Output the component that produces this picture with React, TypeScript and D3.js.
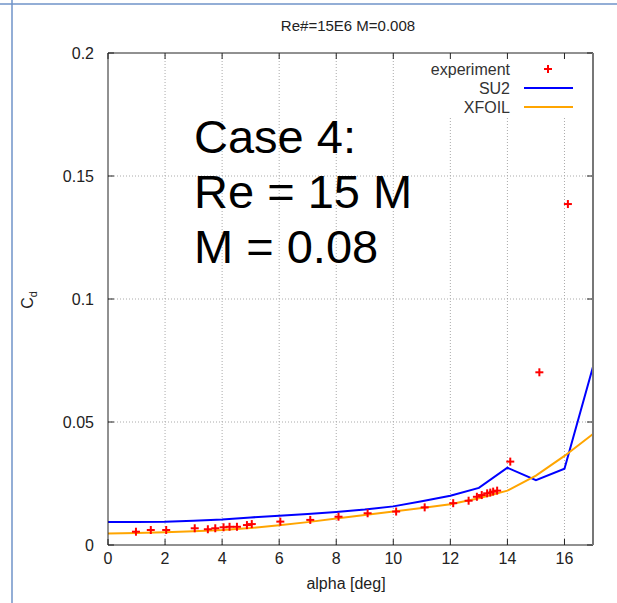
import React from 'react';
import * as d3 from 'd3';

// experiment (alpha [deg], Cd)
const expAlpha = [0.98, 1.5, 2.04, 3.04, 3.5, 3.76, 4.05, 4.26, 4.52, 4.87, 5.04, 6.04, 7.09, 8.08, 9.1, 10.1, 11.1, 12.1, 12.64, 12.93, 13.1, 13.29, 13.4, 13.5, 13.64, 14.1, 15.12, 16.12];
const expCd = [0.0054, 0.0061, 0.0061, 0.0068, 0.0064, 0.0068, 0.0072, 0.0074, 0.0074, 0.0081, 0.0085, 0.0095, 0.0102, 0.0115, 0.0129, 0.0136, 0.0153, 0.017, 0.018, 0.0196, 0.0203, 0.021, 0.0213, 0.0217, 0.0221, 0.0339, 0.0702, 0.1386];

const simAlpha = [0, 1, 2, 3, 4, 5, 6, 7, 8, 9, 10, 11, 12, 13, 14, 15, 16, 17];
const su2Cd = [0.0093, 0.0094, 0.0095, 0.0099, 0.0104, 0.0112, 0.0119, 0.0126, 0.0134, 0.0144, 0.0157, 0.0178, 0.02, 0.0232, 0.0314, 0.0264, 0.031, 0.0725];
const xfoilCd = [0.0047, 0.0049, 0.0052, 0.0056, 0.0061, 0.0069, 0.008, 0.0093, 0.0108, 0.0122, 0.0136, 0.015, 0.0166, 0.019, 0.0221, 0.0282, 0.0362, 0.0451];

const xTicks = [0, 2, 4, 6, 8, 10, 12, 14, 16];
const yTicks = [0, 0.05, 0.1, 0.15, 0.2];
const caseLines = ['Case 4:', 'Re = 15 M', 'M = 0.08'];

const font = '"Liberation Sans", Arial, sans-serif';
const ink = '#222';

export default function App() {
  const W = 617, H = 603;
  const L = 108, R = 593, T = 53, B = 545;
  const x = d3.scaleLinear().domain([0, 17]).range([L, R]);
  const y = d3.scaleLinear().domain([0, 0.2]).range([B, T]);

  const line = d3.line<number>().x((d, i) => x(simAlpha[i])).y(d => y(d));

  const yFmt = (v: number) => (v === 0 ? '0' : String(+v.toFixed(2)));

  return (
    <svg width={W} height={H} style={{ position: 'absolute', left: 0, top: 0, background: '#fff' }}>
      {/* page decoration */}
      <line x1={0} x2={W} y1={4} y2={4} stroke="#6f93c8" strokeWidth={1.5} />
      <line x1={12} x2={12} y1={0} y2={H} stroke="#6f93c8" strokeWidth={1.5} />

      <text x={348} y={31} textAnchor="middle" fontFamily={font} fontSize={15} fill={ink}>Re#=15E6 M=0.008</text>

      {/* grid */}
      <g stroke="#aaa" strokeWidth={1} strokeDasharray="1,2">
        {xTicks.filter(t => t > 0).map(t => (
          <line key={'gx' + t} x1={x(t)} x2={x(t)} y1={B} y2={t >= 12 ? 118 : T} />
        ))}
        {yTicks.filter(t => t > 0 && t < 0.2).map(t => (
          <line key={'gy' + t} x1={L} x2={R} y1={y(t)} y2={y(t)} />
        ))}
      </g>

      {/* ticks */}
      <g stroke={ink} strokeWidth={1}>
        {xTicks.map(t => (
          <g key={'tx' + t}>
            <line x1={x(t)} x2={x(t)} y1={B} y2={B - 6} />
            <line x1={x(t)} x2={x(t)} y1={T} y2={T + 6} />
          </g>
        ))}
        {yTicks.map(t => (
          <g key={'ty' + t}>
            <line x1={L} x2={L + 6} y1={y(t)} y2={y(t)} />
            <line x1={R} x2={R - 6} y1={y(t)} y2={y(t)} />
          </g>
        ))}
      </g>

      {/* tick labels */}
      {xTicks.map(t => (
        <text key={'lx' + t} x={x(t)} y={564} textAnchor="middle" fontFamily={font} fontSize={16} fill={ink}>{t}</text>
      ))}
      {yTicks.map(t => (
        <text key={'ly' + t} x={94} y={y(t) + 6} textAnchor="end" fontFamily={font} fontSize={16} fill={ink}>{yFmt(t)}</text>
      ))}

      <text x={346} y={589} textAnchor="middle" fontFamily={font} fontSize={16} fill={ink}>alpha [deg]</text>
      <text transform="translate(33,300) rotate(-90)" textAnchor="middle" fontFamily={font} fontSize={16} fill={ink}>
        C<tspan fontSize={11} dy={4}>d</tspan>
      </text>

      {/* curves */}
      <path d={line(su2Cd) || ''} fill="none" stroke="#0000ff" strokeWidth={2} />
      <path d={line(xfoilCd) || ''} fill="none" stroke="#ffa500" strokeWidth={2} />
      <g stroke="#ff0000" strokeWidth={2}>
        {expAlpha.map((a, i) => (
          <g key={'e' + i}>
            <line x1={x(a) - 4} x2={x(a) + 4} y1={y(expCd[i])} y2={y(expCd[i])} />
            <line x1={x(a)} x2={x(a)} y1={y(expCd[i]) - 4} y2={y(expCd[i]) + 4} />
          </g>
        ))}
      </g>

      {/* frame */}
      <path d={`M${R},${T}H${L}V${B}H${R}`} fill="none" stroke={ink} strokeWidth={1} />
      <line x1={R} x2={R} y1={T} y2={B} stroke="#777" strokeWidth={2} />

      {/* legend */}
      <g fontFamily={font} fontSize={16} fill="#333" textAnchor="end">
        <text x={510} y={75}>experiment</text>
        <text x={510} y={94}>SU2</text>
        <text x={510} y={113}>XFOIL</text>
      </g>
      <g stroke="#ff0000" strokeWidth={2}>
        <line x1={544} x2={552} y1={69} y2={69} />
        <line x1={548} x2={548} y1={65} y2={73} />
      </g>
      <line x1={524} x2={573} y1={88} y2={88} stroke="#0000ff" strokeWidth={2} />
      <line x1={524} x2={573} y1={107} y2={107} stroke="#ffa500" strokeWidth={2} />

      {/* annotation */}
      <g fontFamily={font} fontSize={47} fill="#000">
        {caseLines.map((s, i) => (
          <text key={s} x={194} y={153 + i * 55}>{s}</text>
        ))}
      </g>
    </svg>
  );
}
